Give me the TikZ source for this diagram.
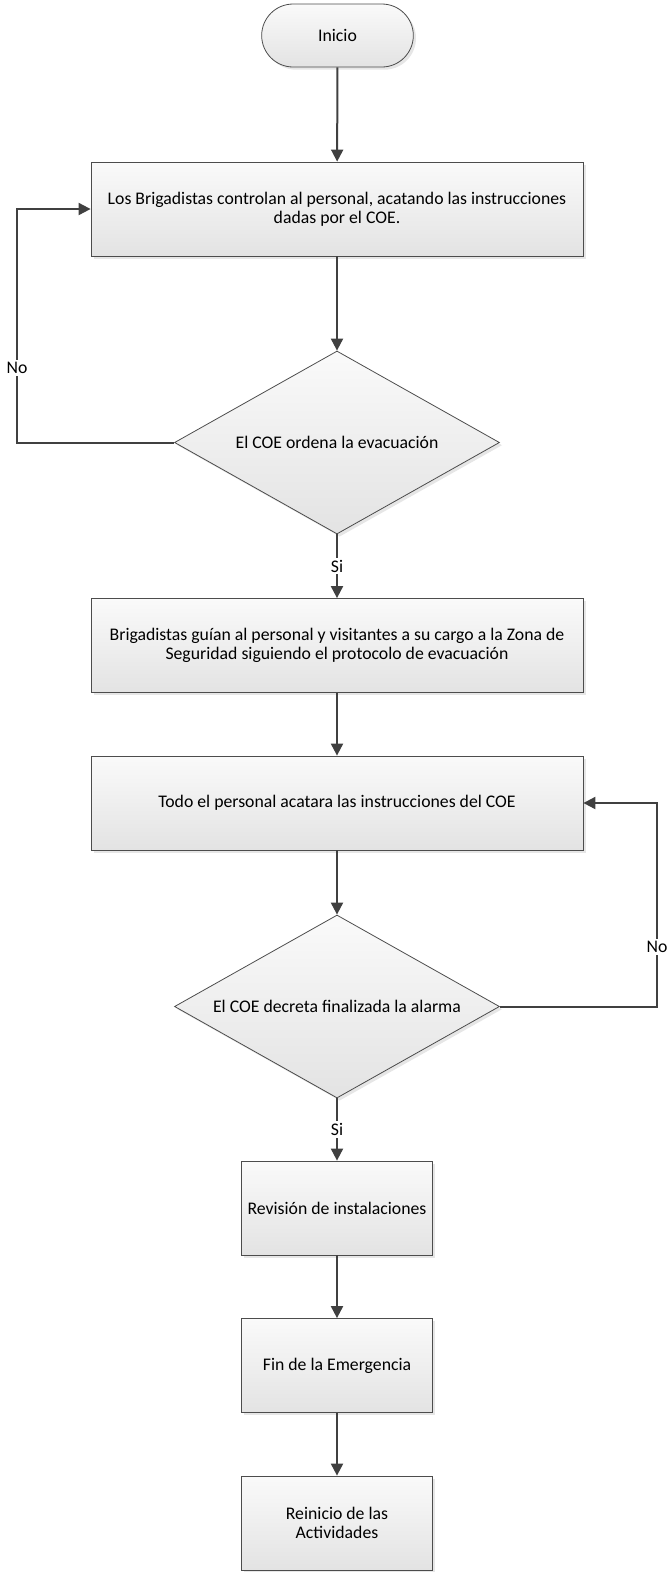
\documentclass[tikz,border=0pt]{standalone}
\usepackage{fontspec}
\setmainfont{Carlito}
\usepackage{xcolor}
\usepackage{tikz}
\usetikzlibrary{shapes.geometric,shapes.misc,shadows,arrows.meta}

\begin{document}
\begin{tikzpicture}[x=0.75pt,y=-0.75pt,
  font=\fontsize{13.3}{14}\selectfont,
  base/.style={draw=black!70,line width=0.6pt,top color=black!2,bottom color=black!11,
    drop shadow={shadow xshift=2pt,shadow yshift=-2pt,opacity=0.2},align=center,inner sep=2pt},
  terminal/.style={base,rounded rectangle,minimum width=117.75pt,minimum height=47.25pt},
  widebox/.style={base,rectangle,minimum width=369pt,minimum height=70.5pt},
  smallbox/.style={base,rectangle,minimum width=143.25pt,minimum height=70.5pt},
  decision/.style={base,diamond,aspect=1.78,inner sep=0pt,minimum width=243.75pt,minimum height=137.25pt},
  flow/.style={draw=black!75,line width=1.5pt,-{Triangle[length=9pt,width=9pt]}},
  lbl/.style={fill=white,inner sep=1.5pt}]
\useasboundingbox (0,0) rectangle (668,1572);
\node[terminal] (inicio) at (337.5,35.5) {Inicio};
\node[widebox] (b1) at (337,209) {Los Brigadistas controlan al personal, acatando las instrucciones\\dadas por el COE.};
\node[decision] (d1) at (337,442.5) {El COE ordena la evacuación};
\node[widebox] (b2) at (337,645.5) {Brigadistas guían al personal y visitantes a su cargo a la Zona de\\Seguridad siguiendo el protocolo de evacuación};
\node[widebox] (b3) at (337,803) {Todo el personal acatara las instrucciones del COE};
\node[decision] (d2) at (337,1006.5) {El COE decreta finalizada la alarma};
\node[smallbox] (b4) at (337,1208) {Revisión de instalaciones};
\node[smallbox] (b5) at (337,1365.5) {Fin de la Emergencia};
\node[smallbox] (b6) at (337,1523) {Reinicio de las\\Actividades};
\coordinate (backL) at (17,442.5);
\coordinate (backR) at (657,1006.5);

\draw[flow] (inicio) -- (b1);
\draw[flow] (b1) -- (d1);
\draw[flow] (d1) -- node[lbl]{Si} (b2);
\draw[flow] (b2) -- (b3);
\draw[flow] (b3) -- (d2);
\draw[flow] (d2) -- node[lbl]{Si} (b4);
\draw[flow] (b4) -- (b5);
\draw[flow] (b5) -- (b6);
\draw[flow] (d1.west) -- (backL) |- node[lbl,pos=0.16]{No} (b1.west);
\draw[flow] (d2.east) -- (backR) |- node[lbl,pos=0.146]{No} (b3.east);
\end{tikzpicture}
\end{document}
